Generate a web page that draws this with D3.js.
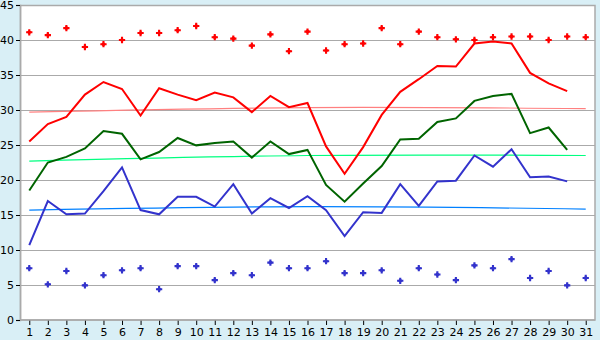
<!DOCTYPE html>
<html>
<head>
<meta charset="utf-8">
<script src="https://cdn.jsdelivr.net/npm/d3@7"></script>
<style>
  body { margin: 0; background: #d9eff6; }
  svg { display: block; }
  text { font-family: "DejaVu Sans", Verdana, sans-serif; font-size: 11px; fill: #000; }
</style>
</head>
<body>
<div id="chart"></div>
<script>
var days = d3.range(1, 32);   // 1..31

// daily series (days 1-30)
var redLine = [25.5, 28.0, 29.0, 32.2, 34.0, 33.0, 29.2, 33.1, 32.2, 31.4,
               32.5, 31.8, 29.7, 32.0, 30.4, 31.0, 24.8, 20.9, 24.7, 29.3,
               32.6, 34.4, 36.3, 36.2, 39.5, 39.8, 39.5, 35.3, 33.8, 32.7];
var greenLine = [18.5, 22.5, 23.3, 24.5, 27.0, 26.6, 22.95, 24.0, 26.0, 24.95,
                 25.3, 25.5, 23.2, 25.5, 23.7, 24.3, 19.3, 16.9, 19.5, 22.0,
                 25.8, 25.9, 28.3, 28.8, 31.3, 32.0, 32.3, 26.7, 27.5, 24.3];
var blueLine = [10.7, 17.0, 15.1, 15.2, 18.4, 21.8, 15.7, 15.1, 17.6, 17.6,
                16.2, 19.4, 15.2, 17.4, 16.0, 17.7, 15.7, 12.0, 15.4, 15.3,
                19.4, 16.3, 19.8, 19.9, 23.5, 21.9, 24.4, 20.4, 20.5, 19.8];

// extremes (days 1-31)
var maxPoints = [41.1, 40.7, 41.7, 39.0, 39.4, 40.0, 41.0, 41.0, 41.4, 42.0,
                 40.4, 40.2, 39.2, 40.8, 38.4, 41.2, 38.5, 39.4, 39.5, 41.7,
                 39.4, 41.2, 40.4, 40.1, 40.0, 40.4, 40.5, 40.5, 40.0, 40.5, 40.4];
var minPoints = [7.4, 5.1, 7.0, 4.95, 6.4, 7.1, 7.4, 4.4, 7.7, 7.7,
                 5.7, 6.7, 6.4, 8.2, 7.4, 7.4, 8.4, 6.7, 6.7, 7.1,
                 5.6, 7.4, 6.5, 5.7, 7.8, 7.4, 8.7, 6.0, 7.0, 4.95, 6.0];

// trend curves (days 1, 16, 31)
var trendDays = [1, 16, 31];
var redTrend = [29.7, 30.35, 30.2];
var greenTrend = [22.7, 23.5, 23.5];
var blueTrend = [15.7, 16.2, 15.85];

var yTicks = [0, 5, 10, 15, 20, 25, 30, 35, 40, 45];

var margin = {top: 5, right: 5, bottom: 20, left: 20},
    width = 600 - margin.left - margin.right,
    height = 340 - margin.top - margin.bottom;

var svg = d3.select("#chart")
    .append("svg")
    .attr("width", 600)
    .attr("height", 340)
    .append("g")
    .attr("transform", "translate(" + margin.left + "," + margin.top + ")");

var x = d3.scalePoint()
    .domain(days)
    .range([0, width])
    .padding(0.5);

var y = d3.scaleLinear()
    .domain([0, 45])
    .range([height, 0]);

// plot background
svg.append("rect")
    .attr("width", width)
    .attr("height", height)
    .attr("fill", "#fff");

// gridlines
svg.append("g")
    .selectAll("line")
    .data(yTicks.slice(1, -1))
    .enter()
    .append("line")
    .attr("x1", 0)
    .attr("x2", width)
    .attr("y1", function (d) { return Math.round(y(d)) + 0.5; })
    .attr("y2", function (d) { return Math.round(y(d)) + 0.5; })
    .attr("stroke", "#aaa");

// border
svg.append("rect")
    .attr("x", 0.5)
    .attr("y", 0.5)
    .attr("width", width - 0.5)
    .attr("height", height - 0.5)
    .attr("fill", "none")
    .attr("stroke", "#aaa")
    .attr("stroke-width", 1.5);

// axes
var xAxis = svg.append("g")
    .attr("transform", "translate(0," + height + ")")
    .call(d3.axisBottom(x).tickSize(5).tickPadding(3));
var yAxis = svg.append("g")
    .call(d3.axisLeft(y).tickValues(yTicks).tickSize(4).tickPadding(2));

[xAxis, yAxis].forEach(function (a) {
    a.select(".domain").attr("stroke", "#aaa").attr("stroke-width", 1.5);
    a.selectAll(".tick line").attr("stroke", "#000");
    a.selectAll("text").attr("font-family", null).attr("font-size", null);
});
xAxis.select(".domain").remove();
svg.append("line")
    .attr("x1", 0).attr("x2", width)
    .attr("y1", height).attr("y2", height)
    .attr("stroke", "#aaa").attr("stroke-width", 1.5);

// trend curves
var trend = d3.line()
    .x(function (d, i) { return x(trendDays[i]); })
    .y(function (d) { return y(d); })
    .curve(d3.curveNatural);

[[redTrend, "#ff8080"], [greenTrend, "#00ff80"], [blueTrend, "#0080ff"]].forEach(function (t) {
    svg.append("path")
        .attr("d", trend(t[0]))
        .attr("fill", "none")
        .attr("stroke", t[1])
        .attr("stroke-width", 1.2);
});

// daily lines
var line = d3.line()
    .x(function (d, i) { return x(days[i]); })
    .y(function (d) { return y(d); });

[[redLine, "#ff0000"], [greenLine, "#006400"], [blueLine, "#3333cc"]].forEach(function (s) {
    svg.append("path")
        .attr("d", line(s[0]))
        .attr("fill", "none")
        .attr("stroke", s[1])
        .attr("stroke-width", 2);
});

// max / min markers: small plus-diamonds
var cross = d3.symbol().type(d3.symbolCross).size(22);
var diamond = d3.symbol().type(d3.symbolDiamond2).size(16);

[[maxPoints, "#ff0000"], [minPoints, "#3333cc"]].forEach(function (m) {
    var g = svg.append("g")
        .selectAll("g")
        .data(m[0])
        .enter()
        .append("g")
        .attr("transform", function (d, i) {
            return "translate(" + x(days[i]) + "," + y(d) + ")";
        })
        .attr("fill", m[1]);
    g.append("path").attr("d", cross);
    g.append("path").attr("d", diamond);
});
</script>
</body>
</html>
